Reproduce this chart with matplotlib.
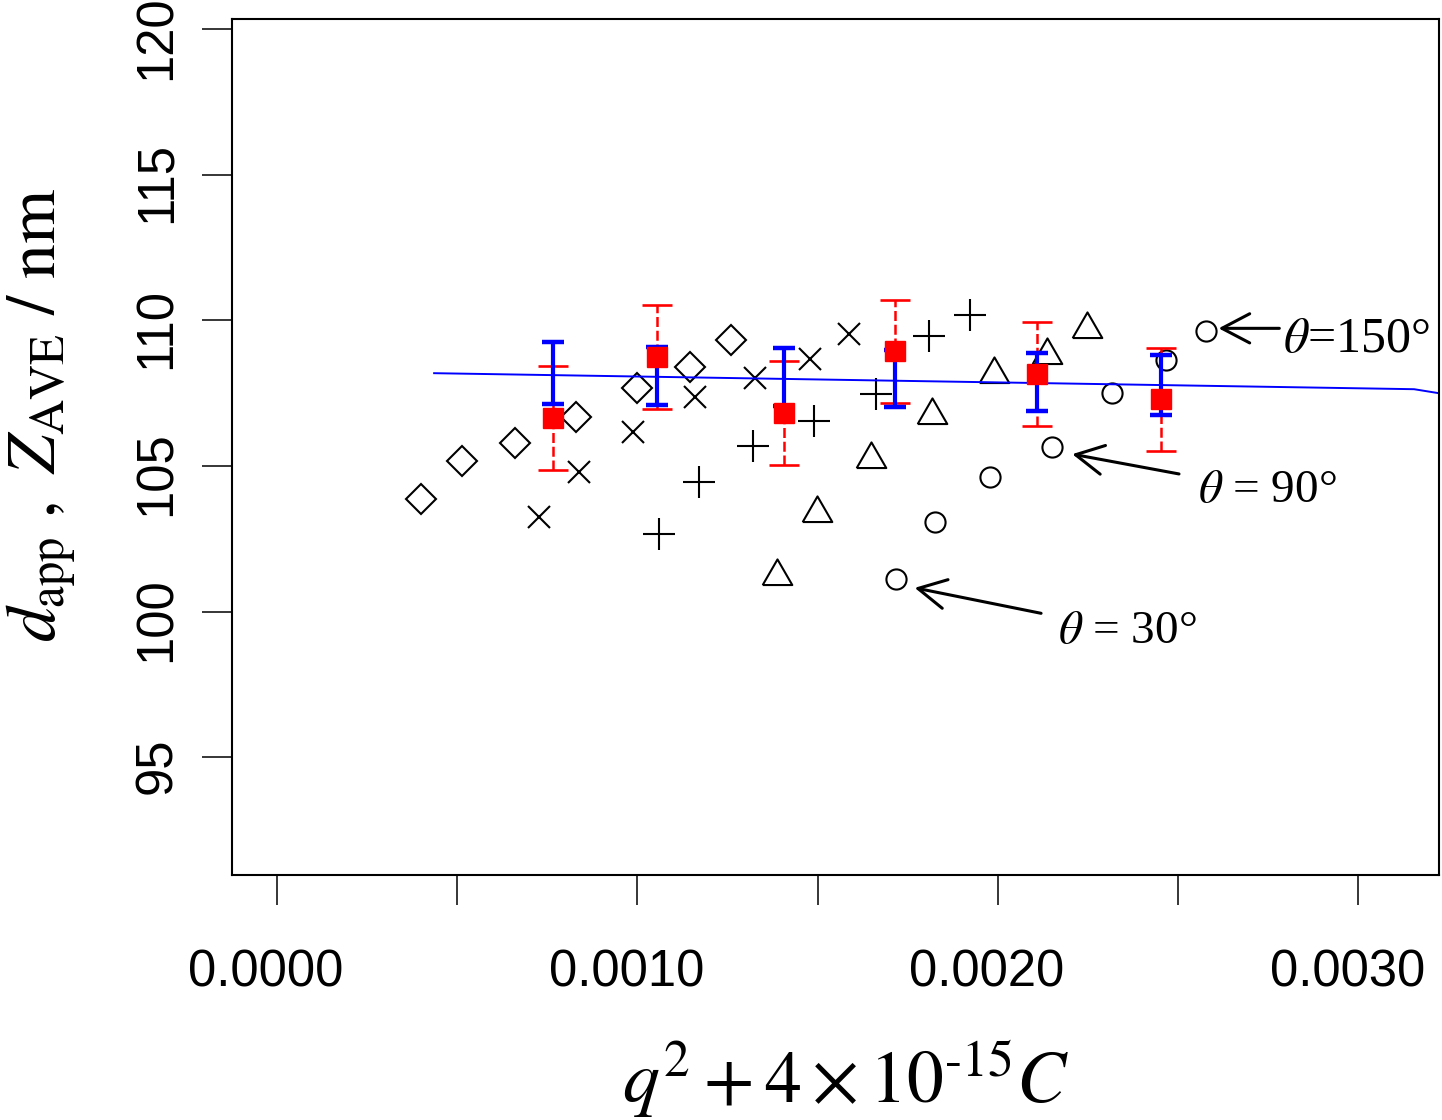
import matplotlib.pyplot as plt
import matplotlib.transforms as mtransforms
import numpy as np

plt.rcParams['mathtext.fontset'] = 'stix'
plt.rcParams['font.family'] = ['Liberation Sans', 'DejaVu Sans']

# apparent diameter at each angle, one list per concentration
diamond_x = [0.000399, 0.000512, 0.000660, 0.000830, 0.000998, 0.001147, 0.001259]
diamond_y = [103.87, 105.19, 105.78, 106.68, 107.67, 108.41, 109.33]
cross_x = [0.000727, 0.000837, 0.000987, 0.001159, 0.001327, 0.001478, 0.001587]
cross_y = [103.24, 104.81, 106.18, 107.36, 108.04, 108.68, 109.55]
plus_x = [0.001061, 0.001171, 0.001321, 0.001490, 0.001661, 0.001808, 0.001922]
plus_y = [102.67, 104.46, 105.70, 106.55, 107.48, 109.48, 110.19]
tri_x = [0.001387, 0.001498, 0.001648, 0.001817, 0.001989, 0.002137, 0.002247]
tri_y = [101.22, 103.40, 105.23, 106.76, 108.15, 108.83, 109.69]
circ_x = [0.001717, 0.001827, 0.001977, 0.002149, 0.002317, 0.002466, 0.002577]
circ_y = [101.13, 103.07, 104.64, 105.65, 107.50, 108.64, 109.65]

# mean d_app (red) and Z_AVE (blue) per concentration
mean_x = [0.000767, 0.001054, 0.001408, 0.001714, 0.002109, 0.002452]
dapp_mean = [106.65, 108.75, 106.83, 108.94, 108.16, 107.29]
dapp_err = [1.78, 1.78, 1.78, 1.78, 1.78, 1.78]
zave_mean = [108.19, 108.10, 108.05, 108.01, 107.90, 107.79]
zave_err = [1.07, 1.00, 1.00, 0.97, 1.00, 1.03]

# fitted line
fit_x = [0.000436, 0.003155, 0.003225]
fit_y = [108.19, 107.64, 107.50]

xtick_pos = [0.0, 0.0005, 0.0010, 0.0015, 0.0020, 0.0025, 0.0030]
xtick_lab = ['0.0000', '', '0.0010', '', '0.0020', '', '0.0030']
ytick_pos = [95, 100, 105, 110, 115, 120]

fig = plt.figure(figsize=(14.42, 11.2), dpi=100)
ax = fig.add_axes([0.1611, 0.2185, 0.8368, 0.7645])

kw = dict(linestyle='none', color='black', markerfacecolor='none', markeredgewidth=1.5)
ax.plot(diamond_x, diamond_y, marker='D', markersize=15.5, **kw)
ax.plot(cross_x, cross_y, marker='x', markersize=15.8, **kw)
ax.plot(plus_x, plus_y, marker='+', markersize=22.5, **kw)
tri = [(-1, -0.5774), (1, -0.5774), (0, 1.1547), (-1, -0.5774)]
ax.plot(tri_x, tri_y, marker=tri, markersize=24.6, **kw)
ax.plot(circ_x, circ_y, marker='o', markersize=14.5, **kw)

eb = ax.errorbar(mean_x, dapp_mean, yerr=dapp_err, fmt='s', color='red', ms=14.5,
                 ecolor='red', elinewidth=1.8, capsize=10.8, capthick=1.9)
eb.lines[2][0].set_linestyle((0, (4, 1.5)))

ax.errorbar(mean_x, zave_mean, yerr=zave_err, fmt='none', ecolor='blue',
            elinewidth=3.0, capsize=8.0, capthick=3.2)
ax.plot(fit_x, fit_y, color='blue', lw=1.4)

ax.set_xlim(-0.000124, 0.003224)
ax.set_ylim(90.95, 120.35)
ax.set_xticks(xtick_pos)
ax.set_xticklabels(xtick_lab)
ax.set_yticks(ytick_pos)
ax.set_yticklabels([str(v) for v in ytick_pos], rotation=90, va='center')
ax.tick_params(axis='both', direction='out', length=21.9, width=1.1, labelsize=36.5)
ax.tick_params(axis='x', pad=31)
ax.tick_params(axis='y', pad=14.5)
for s in ax.spines.values():
    s.set_linewidth(1.5)

# R draws the labels slightly off-centre
for t in ax.xaxis.get_major_ticks():
    t.label1.set_transform(t.label1.get_transform()
                           + mtransforms.ScaledTranslation(-0.11, 0, fig.dpi_scale_trans))
for t in ax.yaxis.get_major_ticks():
    t.label1.set_transform(t.label1.get_transform()
                           + mtransforms.ScaledTranslation(0, -0.08, fig.dpi_scale_trans))

# angle annotations
arr = dict(arrowstyle='->,head_length=20,head_width=10.5', mutation_scale=1,
           lw=2.2, color='black', shrinkA=0, shrinkB=0)
ax.annotate('', xy=(0.0026126, 109.73), xytext=(0.002781, 109.73), arrowprops=arr)
ax.annotate('', xy=(0.0022066, 105.41), xytext=(0.0025027, 104.73), arrowprops=arr)
ax.annotate('', xy=(0.0017693, 100.82), xytext=(0.00212, 99.945), arrowprops=arr)
tkw = dict(family='Liberation Serif', va='baseline', ha='left', clip_on=False)
ax.text(0.002791, 108.93, r'$\theta$=150°', fontsize=36, **tkw)
ax.text(0.0025556, 103.78, r'$\theta$ = 90°', fontsize=34, **tkw)
ax.text(0.002166, 98.94, r'$\theta$ = 30°', fontsize=34, **tkw)

fig.text(845 / 1442, 1 - 1102.7 / 1120, r'$q^2 + 4\times10^{\text{-}15}C$',
         fontsize=53, ha='center', va='baseline')
fig.text(56 / 1442, 1 - 415 / 1120,
         r'$d_{\mathrm{app}}\ ,\ Z_{\mathrm{AVE}}\ /\ \mathrm{nm}$',
         fontsize=50, rotation=90, rotation_mode='anchor', ha='center', va='baseline')

fig.savefig('out.png', dpi=100)
